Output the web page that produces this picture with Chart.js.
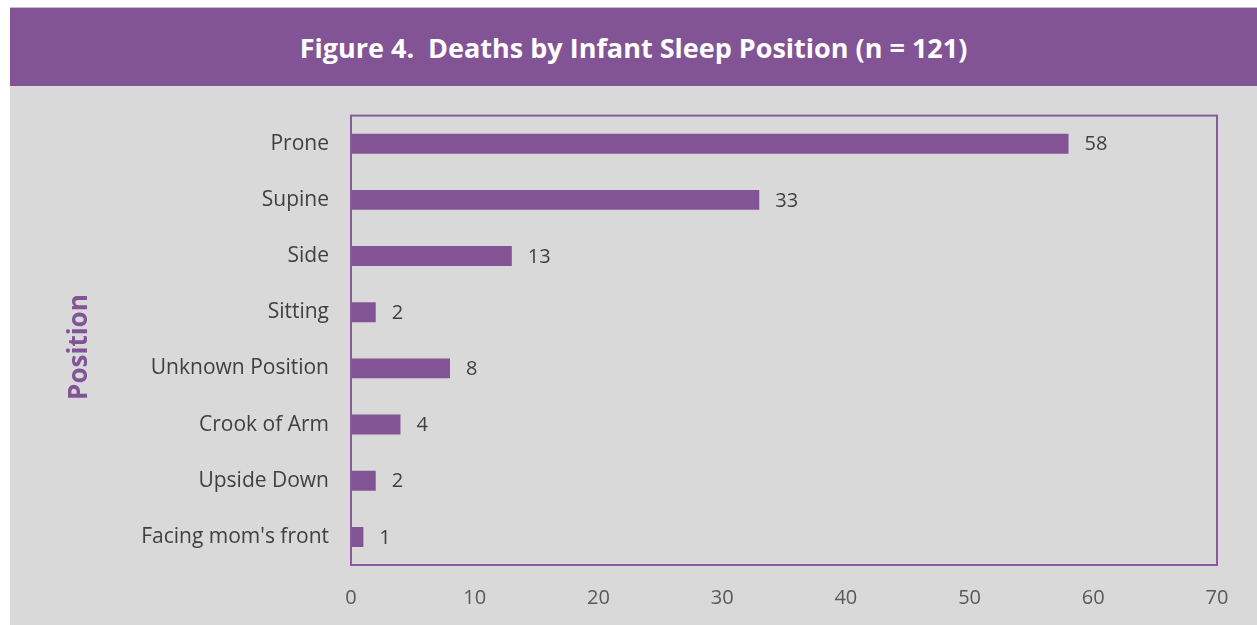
<!DOCTYPE html>
<html>
<head>
<meta charset="utf-8">
<script src="https://cdn.jsdelivr.net/npm/chart.js@4"></script>
<style>
  html, body { margin: 0; padding: 0; background: #fff; }
  #frame {
    position: absolute; left: 10px; top: 7px; width: 1247px; height: 618px;
    background: #d9d9d9; border-top: 1px solid #bfbfbf; box-sizing: border-box;
    overflow: hidden;
  }
  #banner {
    position: relative; z-index: 1;
    height: 78px; background: #825496; color: #fff;
    font: bold 27px "Open Sans", sans-serif;
    display: flex; align-items: center; justify-content: center;
    white-space: pre;
  }
  #wrap { position: relative; width: 1247px; height: 544px; margin-top: -5px; }
</style>
</head>
<body>
<div id="frame">
  <div id="banner">Figure 4.  Deaths by Infant Sleep Position (n = 121)</div>
  <div id="wrap"><canvas id="sleepChart"></canvas></div>
</div>
<script>
// Данные графика
const positions = ['Prone', 'Supine', 'Side', 'Sitting', 'Unknown Position', 'Crook of Arm', 'Upside Down', "Facing mom's front"];
const deaths = [58, 33, 13, 2, 8, 4, 2, 1];
const axisTicks = [0, 10, 20, 30, 40, 50, 60, 70];

const PURPLE = '#825496';

// Рамка вокруг области графика
const frameBorder = {
  id: 'frameBorder',
  afterDatasetsDraw(chart) {
    const { ctx, chartArea: a } = chart;
    ctx.save();
    ctx.strokeStyle = '#8a5a9e';
    ctx.lineWidth = 2;
    ctx.strokeRect(a.left, a.top, a.right - a.left, a.bottom - a.top);
    ctx.restore();
  }
};

// Подписи значений справа от столбцов
const valueLabels = {
  id: 'valueLabels',
  afterDatasetsDraw(chart) {
    const { ctx } = chart;
    const meta = chart.getDatasetMeta(0);
    ctx.save();
    ctx.fillStyle = '#404040';
    ctx.font = '20px "Open Sans", sans-serif';
    ctx.textAlign = 'left';
    ctx.textBaseline = 'middle';
    meta.data.forEach((bar, i) => {
      ctx.fillText(String(deaths[i]), bar.x + 16, bar.y + 1);
    });
    ctx.restore();
  }
};

const ctx = document.getElementById('sleepChart').getContext('2d');
new Chart(ctx, {
  type: 'bar',
  data: {
    labels: positions,
    datasets: [{
      data: deaths,
      backgroundColor: PURPLE,
      borderWidth: 0,
      barPercentage: 0.71,
      categoryPercentage: 0.5
    }]
  },
  options: {
    indexAxis: 'y',
    responsive: true,
    maintainAspectRatio: false,
    animation: false,
    layout: { padding: { left: 54, top: 24, right: 40, bottom: 0 } },
    plugins: {
      legend: { display: false },
      tooltip: { enabled: false }
    },
    scales: {
      x: {
        min: 0,
        max: 70,
        afterBuildTicks(scale) {
          scale.ticks = axisTicks.map(v => ({ value: v }));
        },
        grid: { display: false, drawTicks: false },
        border: { display: false },
        ticks: {
          color: '#595959',
          padding: 21,
          font: { family: '"Open Sans", sans-serif', size: 20 }
        },
        afterFit(scale) { scale.height = 60; }
      },
      y: {
        grid: { display: false, drawTicks: false },
        border: { display: false },
        ticks: {
          color: '#404040',
          padding: 22,
          font: { family: '"Open Sans", sans-serif', size: 21 }
        },
        title: {
          display: true,
          text: 'Position\u00a0\u00a0',
          color: PURPLE,
          padding: { top: 0, bottom: 0 },
          font: { family: '"Open Sans", sans-serif', size: 26, weight: 'bold' }
        },
        afterFit(scale) { scale.width = 287; }
      }
    }
  },
  plugins: [frameBorder, valueLabels]
});
</script>
</body>
</html>
